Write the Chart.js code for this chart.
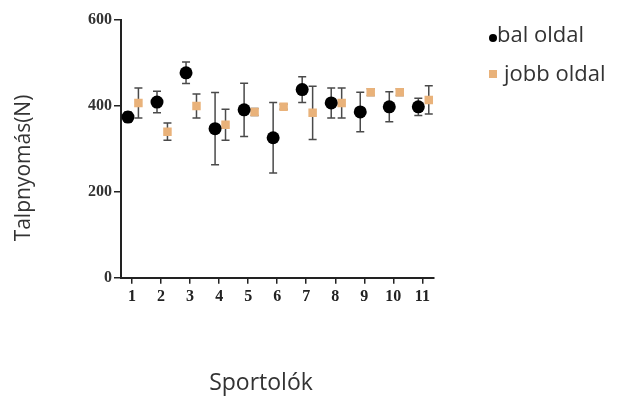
<!DOCTYPE html>
<html>
<head>
<meta charset="utf-8">
<script src="https://cdn.jsdelivr.net/npm/chart.js@4"></script>
<style>
  html, body { margin: 0; padding: 0; background: #fff; }
  #wrap { width: 618px; height: 397px; }
</style>
</head>
<body>
<div id="wrap"><canvas id="chart" width="618" height="397"></canvas></div>
<script>
// Data
const athletes = [1, 2, 3, 4, 5, 6, 7, 8, 9, 10, 11];
const leftMean = [374, 409, 477, 347, 391, 326, 438, 407, 386, 398, 398];
const leftErr = [12, 25, 25, 84, 62, 82, 30, 35, 46, 35, 20];
const rightMean = [407, 340, 400, 356, 386, 398, 384, 407, 432, 432, 414];
const rightErr = [35, 20, 28, 36, 8, 6, 62, 35, 8, 8, 33];
const yTicks = [0, 200, 400, 600];
const seriesNames = ['bal oldal', 'jobb oldal'];

const LEFT_SHIFT = -0.14;
const RIGHT_SHIFT = 0.22;
const LEFT_COLOR = '#000';
const RIGHT_COLOR = '#e9b27a';

const toPoints = (means, shift) => athletes.map((a, i) => ({ x: a + shift, y: means[i] }));

// error bars, drawn behind the markers
const errorBars = {
  id: 'errorBars',
  beforeDatasetsDraw(chart) {
    const ctx = chart.ctx;
    const xs = chart.scales.x, ys = chart.scales.y;
    const sets = [[leftMean, leftErr, LEFT_SHIFT], [rightMean, rightErr, RIGHT_SHIFT]];
    ctx.save();
    ctx.strokeStyle = '#4a4a4a';
    ctx.lineWidth = 1.5;
    sets.forEach(([means, errs, shift]) => {
      athletes.forEach((a, i) => {
        const px = xs.getPixelForValue(a + shift);
        const top = ys.getPixelForValue(means[i] + errs[i]);
        const bot = ys.getPixelForValue(means[i] - errs[i]);
        ctx.beginPath();
        ctx.moveTo(px, top); ctx.lineTo(px, bot);
        ctx.moveTo(px - 4, top); ctx.lineTo(px + 4, top);
        ctx.moveTo(px - 4, bot); ctx.lineTo(px + 4, bot);
        ctx.stroke();
      });
    });
    ctx.restore();
  }
};

// axis titles and legend placed like the original figure
const annotations = {
  id: 'annotations',
  afterDraw(chart) {
    const ctx = chart.ctx;
    ctx.save();
    ctx.fillStyle = '#333';
    ctx.textBaseline = 'middle';
    ctx.textAlign = 'center';
    ctx.font = '23px "Open Sans"';
    ctx.fillText('Sportolók', 261, 383);
    ctx.save();
    ctx.font = '21px "Open Sans"';
    ctx.translate(24, 168);
    ctx.rotate(-Math.PI / 2);
    ctx.fillText('Talpnyomás(N)', 0, 0);
    ctx.restore();

    // legend
    ctx.textAlign = 'left';
    ctx.textBaseline = 'alphabetic';
    ctx.font = '22px "Open Sans"';
    ctx.fillStyle = LEFT_COLOR;
    ctx.beginPath();
    ctx.arc(493, 38, 4, 0, Math.PI * 2);
    ctx.fill();
    ctx.fillStyle = '#333';
    ctx.fillText(seriesNames[0], 497, 42);
    ctx.fillStyle = RIGHT_COLOR;
    ctx.fillRect(489, 70, 8, 8);
    ctx.fillStyle = '#333';
    ctx.fillText(seriesNames[1], 504, 81);
    ctx.restore();
  }
};

new Chart(document.getElementById('chart'), {
  type: 'scatter',
  data: {
    datasets: [
      {
        label: seriesNames[0],
        data: toPoints(leftMean, LEFT_SHIFT),
        pointStyle: 'circle',
        pointRadius: 6.5,
        backgroundColor: LEFT_COLOR,
        borderColor: LEFT_COLOR,
        borderWidth: 0
      },
      {
        label: seriesNames[1],
        data: toPoints(rightMean, RIGHT_SHIFT),
        pointStyle: 'rect',
        pointRadius: 6,
        backgroundColor: RIGHT_COLOR,
        borderColor: RIGHT_COLOR,
        borderWidth: 0
      }
    ]
  },
  options: {
    responsive: false,
    animation: false,
    layout: { padding: { left: 86, top: 20, right: 184, bottom: 88 } },
    plugins: {
      tooltip: { enabled: false },
      legend: { display: false }
    },
    scales: {
      x: {
        type: 'linear',
        min: 0.62,
        max: 11.4,
        afterBuildTicks: (s) => { s.ticks = athletes.map(v => ({ value: v })); },
        grid: { drawOnChartArea: false, drawTicks: true, tickLength: 6, color: '#222', lineWidth: 1.5 },
        border: { display: true, color: '#222', width: 2 },
        ticks: {
          color: '#222',
          padding: 3,
          font: { family: 'Liberation Serif', size: 16, weight: 'bold' }
        }
      },
      y: {
        min: 0,
        max: 600,
        afterBuildTicks: (s) => { s.ticks = yTicks.map(v => ({ value: v })); },
        grid: { drawOnChartArea: false, drawTicks: true, tickLength: 7, color: '#222', lineWidth: 1.5 },
        border: { display: true, color: '#222', width: 2 },
        ticks: {
          color: '#333',
          padding: 2,
          font: { family: 'Liberation Serif', size: 16, weight: 'bold' }
        }
      }
    }
  },
  plugins: [errorBars, annotations]
});
</script>
</body>
</html>
